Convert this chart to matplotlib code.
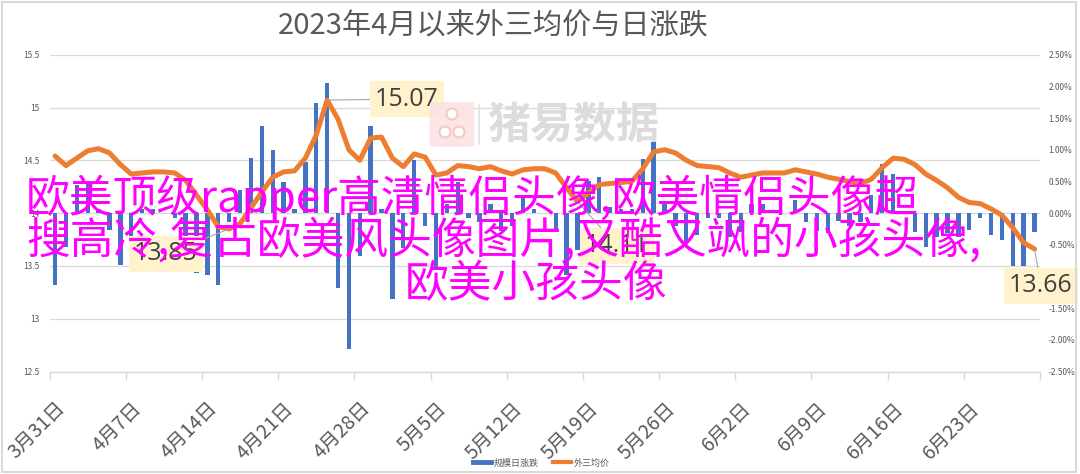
import numpy as np
import pandas as pd
import matplotlib
matplotlib.use('Agg')
import matplotlib.pyplot as plt
from matplotlib.lines import Line2D
from matplotlib.patches import Rectangle, FancyBboxPatch, Ellipse

plt.rcParams['font.family'] = ['Noto Sans CJK SC', 'DejaVu Sans']

# ---------------- data ----------------
start_date = '2023-03-31'
avg_price = [14.54, 14.45, 14.52, 14.59, 14.61, 14.57, 14.46, 14.37, 14.38, 14.39,
             14.39, 14.38, 14.31, 14.17, 14.03, 13.87, 13.85, 13.90, 14.05, 14.20,
             14.34, 14.39, 14.40, 14.52, 14.74, 15.07, 14.89, 14.60, 14.50, 14.71,
             14.72, 14.52, 14.44, 14.56, 14.53, 14.36, 14.38, 14.45, 14.44, 14.42,
             14.44, 14.40, 14.37, 14.41, 14.42, 14.42, 14.38, 14.24, 14.11, 14.19,
             14.27, 14.28, 14.29, 14.30, 14.42, 14.58, 14.60, 14.57, 14.50, 14.45,
             14.44, 14.43, 14.38, 14.34, 14.36, 14.38, 14.38, 14.38, 14.41, 14.39,
             14.37, 14.34, 14.32, 14.30, 14.28, 14.32, 14.43, 14.52, 14.51, 14.46,
             14.37, 14.31, 14.24, 14.15, 14.10, 14.09, 14.04, 13.98, 13.86, 13.72,
             13.66]
daily_change = [-1.14, -0.53, 0.45, 0.50, 0.07, -0.27, -0.82, -0.62, 0.07, 0.07,
                0.00, -0.07, -0.49, -0.95, -0.98, -1.13, -0.14, 0.36, 0.87, 1.37,
                0.99, 0.49, 0.07, 0.80, 1.74, 2.05, -1.19, -2.15, -0.68, 1.38,
                0.07, -1.35, -0.55, 0.84, -0.21, -0.85, 0.14, 0.49, -0.07, -0.14,
                0.14, -0.28, -0.21, 0.28, 0.07, 0.00, -0.28, -0.97, -0.58, 0.50,
                0.57, 0.10, 0.07, 0.07, 0.85, 1.12, 0.14, -0.21, -0.49, -0.34,
                -0.07, -0.07, -0.37, -0.30, 0.14, 0.14, 0.00, 0.00, 0.21, -0.14,
                -0.29, -0.31, -0.12, -0.20, -0.14, 0.28, 0.77, 0.62, 0.00, -0.30,
                -0.53, -0.37, -0.32, -0.37, -0.27, -0.07, -0.34, -0.43, -0.84, -0.84,
                -0.30]
price_ticks = [12.5, 13, 13.5, 14, 14.5, 15, 15.5]
price_tick_labels = ['12.5', '13', '13.5', '14', '14.5', '15', '15.5']
pct_ticks = [-2.5, -2.0, -1.5, -1.0, -0.5, 0.0, 0.5, 1.0, 1.5, 2.0, 2.5]
pct_tick_labels = ['-2.50%', '-2.00%', '-1.50%', '-1.00%', '-0.50%', '0.00%',
                   '0.50%', '1.00%', '1.50%', '2.00%', '2.50%']
date_tick_labels = ['3月31日', '4月7日', '4月14日', '4月21日', '4月28日', '5月5日',
                    '5月12日', '5月19日', '5月26日', '6月2日', '6月9日', '6月16日',
                    '6月23日']
labelled_idx = [25, 16, 48, 90]
legend_labels = ['规模日涨跌', '外三均价']
title = '2023年4月以来外三均价与日涨跌'
overlay_lines = ['欧美顶级rapper高清情侣头像,欧美情侣头像超',
                 '搜高冷,复古欧美风头像图片,又酷又飒的小孩头像,',
                 '欧美小孩头像']
watermark = '猪易数据'

# ---------------- layout helpers ----------------
W, H = 1080, 474
def fx(px):
    return px / W
def fy(py):
    return 1 - py / H

fig = plt.figure(figsize=(W / 100, H / 100), dpi=100)
fig.patch.set_facecolor('white')

# chart border
fig.add_artist(Rectangle((fx(2), fy(472)), fx(1076) - fx(2), (472 - 2) / H,
                         transform=fig.transFigure, fill=False,
                         ec='#d9d9d9', lw=1.5))

L, R, T, B = 49.6, 1040, 54.7, 371.5
ax = fig.add_axes([fx(L), fy(B), (R - L) / W, (B - T) / H])
n = len(daily_change)
x = np.arange(n)
dates = pd.date_range(start_date, periods=n, freq='D')

# gridlines (behind bars)
for f in np.linspace(0, 1, len(price_ticks)):
    ax.plot([0, 1], [f, f], transform=ax.transAxes, color='#d9d9d9', lw=0.9,
            zorder=0.5)

ax.bar(x, daily_change, width=0.4, color='#4472C4', zorder=2)
ax.set_xlim(-0.5, n - 0.5)
ax.set_ylim(pct_ticks[0], pct_ticks[-1])
for s in ['top', 'left', 'right']:
    ax.spines[s].set_visible(False)
ax.spines['bottom'].set_color('#d9d9d9')
ax.spines['bottom'].set_linewidth(1.0)

# x ticks: labels at each week's first day, marks at slot boundaries
major_pos = x[::7][:len(date_tick_labels)]
ax.set_xticks(major_pos)
ax.set_xticklabels(date_tick_labels, rotation=45, ha='right', va='top',
                   rotation_mode='anchor')
ax.tick_params(axis='x', which='major', length=0, labelsize=14,
               labelcolor='#595959', pad=19)
ax.set_xticks(np.arange(-0.5, n, 7), minor=True)
ax.tick_params(axis='x', which='minor', length=6, color='#d9d9d9', width=1.0)

ax2 = ax.twinx()
ax2.plot(x, avg_price, color='#ED7D31', lw=3.6, solid_joinstyle='round',
         solid_capstyle='round', zorder=3)
ax2.set_ylim(price_ticks[0], price_ticks[-1])
ax2.yaxis.tick_left()
ax2.set_yticks(price_ticks)
ax2.set_yticklabels(price_tick_labels)
ax2.tick_params(axis='y', length=0, labelsize=6, labelcolor='#595959', pad=7)
for s in ax2.spines.values():
    s.set_visible(False)

# percent axis on the right (set after twinx)
ax.yaxis.tick_right()
ax.set_yticks(pct_ticks)
ax.set_yticklabels(pct_tick_labels)
ax.tick_params(axis='y', length=0, labelsize=6, labelcolor='#595959', pad=6,
               left=False, labelleft=False, right=True, labelright=True)

# data labels
label_pos = [(407, 99), (166, 254), (617, 246), (1041, 286)]
for i, (px, py) in zip(labelled_idx, label_pos):
    ax2.annotate(f'{avg_price[i]:.2f}', xy=(x[i], avg_price[i]),
                 xytext=(fx(px), fy(py)), textcoords='figure fraction',
                 ha='center', va='center', fontsize=18, family='Open Sans',
                 color='#404040',
                 bbox=dict(boxstyle='square,pad=0.22', fc='#FFF2CC', ec='none'),
                 arrowprops=dict(arrowstyle='-', color='#a6a6a6', lw=0.8,
                                 shrinkA=0, shrinkB=0),
                 annotation_clip=False, zorder=6)

# title
fig.text(fx(493), fy(26), title, ha='center', va='center', fontsize=21,
         color='#595959')

# legend
handles = [Line2D([], [], color='#4472C4', lw=3.5),
           Line2D([], [], color='#ED7D31', lw=3.0)]
leg = fig.legend(handles, legend_labels, loc='center',
                 bbox_to_anchor=(fx(541), fy(463)), ncol=2, frameon=False,
                 fontsize=6.5, handlelength=2.0, columnspacing=1.6,
                 handletextpad=0.3)
for t in leg.get_texts():
    t.set_color('#595959')

# watermark logo
fig.add_artist(FancyBboxPatch((fx(434), fy(145)), 36 / W, 41 / H,
                              boxstyle='round,pad=0.004',
                              transform=fig.transFigure, fc='#fbe3e3',
                              ec='none', alpha=0.9, zorder=1))
for cx, cy in [(452, 114), (445, 132), (459, 132)]:
    fig.add_artist(Ellipse((fx(cx), fy(cy)), 11 / W, 11 / H,
                           transform=fig.transFigure, fc='white',
                           ec='#f3c9c9', lw=1.5, zorder=1.1))
fig.add_artist(Line2D([fx(479), fx(479)], [fy(105), fy(144)],
                      transform=fig.transFigure, color='#e3e3e3', lw=1.2))
fig.text(fx(487), fy(125), watermark, ha='left', va='center', fontsize=31,
         color='#dcdcdc', weight='bold', zorder=1)

# overlay magenta text
fig.text(fx(26), fy(198), overlay_lines[0], ha='left', va='center',
         fontsize=31.5, color='#FF00FF', zorder=10)
fig.text(fx(26), fy(241), overlay_lines[1], ha='left', va='center',
         fontsize=31.5, color='#FF00FF', zorder=10)
fig.text(fx(536), fy(284), overlay_lines[2], ha='center', va='center',
         fontsize=31.5, color='#FF00FF', zorder=10)

fig.savefig('out.png', dpi=100, facecolor='white')
